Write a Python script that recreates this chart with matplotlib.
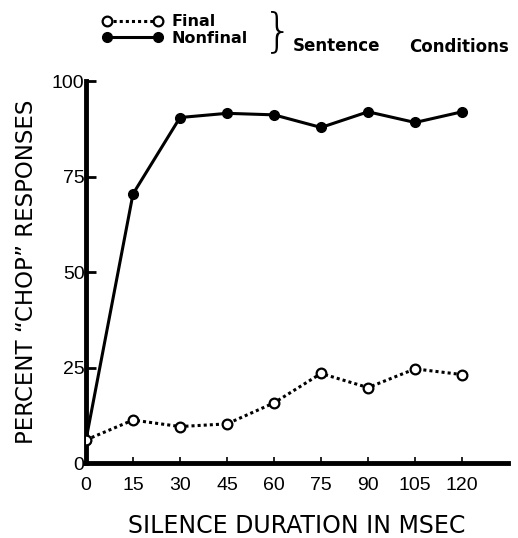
import numpy as np
import matplotlib
matplotlib.use("Agg")
import matplotlib.pyplot as plt

# silence duration (msec)
durations = [0, 15, 30, 45, 60, 75, 90, 105, 120]
# percent "chop" responses
final = [6.1, 11.3, 9.6, 10.3, 15.8, 23.5, 19.8, 24.7, 23.2]
nonfinal = [6.1, 70.5, 90.5, 91.6, 91.2, 87.9, 92.0, 89.2, 92.0]

xticks = [0, 15, 30, 45, 60, 75, 90, 105, 120]
yticks = [0, 25, 50, 75, 100]

fig = plt.figure(figsize=(5.18, 5.38), dpi=100)
ax = fig.add_axes([0.166, 0.139, 0.815, 0.710])

l_final, = ax.plot(durations, final, linestyle=(0, (1, 1)), linewidth=2.2, color='black',
                   marker='o', markersize=7, markerfacecolor='white',
                   markeredgecolor='black', markeredgewidth=1.6, zorder=3)
l_nonfinal, = ax.plot(durations, nonfinal, linestyle='-', linewidth=2.2, color='black',
                      marker='o', markersize=7, markerfacecolor='black',
                      markeredgecolor='black', zorder=2)

ax.set_xlim(0, 134.7)
ax.set_ylim(0, 100)
ax.set_xticks(xticks)
ax.set_yticks(yticks)
ax.set_xticklabels([str(t) for t in xticks], fontsize=14, family='Liberation Sans')
ax.set_yticklabels([str(t) for t in yticks], fontsize=14, family='Liberation Sans')

for s in ['top', 'right']:
    ax.spines[s].set_visible(False)
for s in ['left', 'bottom']:
    ax.spines[s].set_linewidth(3.5)
ax.tick_params(axis='y', direction='in', length=7, width=2, pad=1)
ax.tick_params(axis='x', direction='in', length=4, width=1.2, pad=10)

ax.set_xlabel('SILENCE DURATION IN MSEC', fontsize=17, family='DejaVu Sans',
              labelpad=14)
ax.set_ylabel('PERCENT \u201cCHOP\u201d RESPONSES', fontsize=16.5, family='DejaVu Sans',
              labelpad=10)

leg = ax.legend([l_final, l_nonfinal], ['Final', 'Nonfinal'], numpoints=2,
                frameon=False, handlelength=3.8, handletextpad=0.5, labelspacing=0.1,
                prop={'weight': 'bold', 'size': 11.5, 'family': 'DejaVu Sans'},
                loc='upper left', bbox_to_anchor=(0.17, 1.0), bbox_transform=fig.transFigure)

fig.text(0.537, 0.94, '}', fontsize=34, family='DejaVu Sans', fontweight='light',
         ha='center', va='center', transform=fig.transFigure)
fig.text(0.565, 0.915, 'Sentence', fontsize=12, fontweight='bold', ha='left', va='center')
fig.text(0.79, 0.912, 'Conditions', fontsize=12, fontweight='bold', ha='left', va='center')

fig.savefig('out.png', dpi=100)
